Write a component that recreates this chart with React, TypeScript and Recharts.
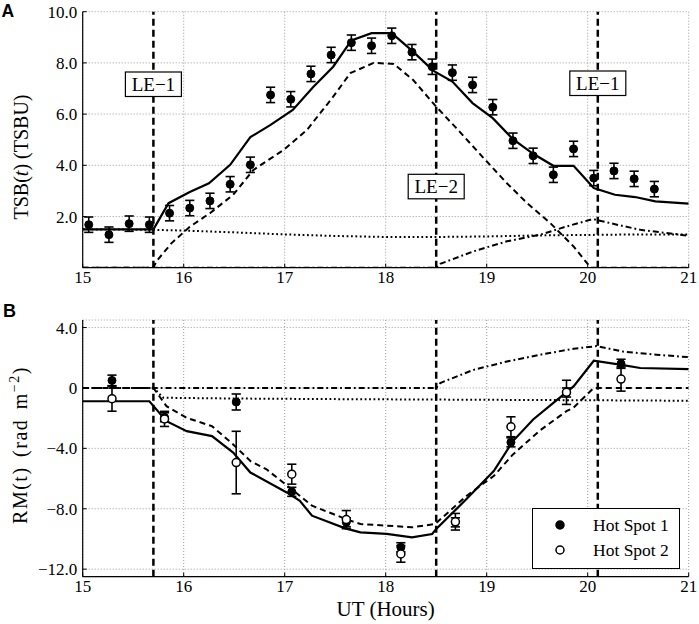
import React from 'react';
import {
  ComposedChart,
  Line,
  Scatter,
  XAxis,
  YAxis,
  CartesianGrid,
  ReferenceLine,
  ErrorBar,
  Legend,
} from 'recharts';

// ---------- axes / ticks ----------
const xTicks = [15, 16, 17, 18, 19, 20, 21];
const tsbTicks = [2, 4, 6, 8, 10];
const rmTicks = [-12, -8, -4, 0, 4];
const leTimes = [15.7, 18.5, 20.1];
const leNames = ['LE\u22121', 'LE\u22122', 'LE\u22121'];
const legendNames = ['Hot Spot 1', 'Hot Spot 2'];

// ---------- Panel A : TSB ----------
const tsbObsX = [15.06, 15.26, 15.46, 15.66, 15.86, 16.06, 16.26, 16.46, 16.66, 16.86, 17.06, 17.26, 17.46, 17.66, 17.86, 18.06, 18.26, 18.46, 18.66, 18.86, 19.06, 19.26, 19.46, 19.66, 19.86, 20.06, 20.26, 20.46, 20.66];
const tsbObsY = [1.68, 1.29, 1.72, 1.68, 2.13, 2.33, 2.61, 3.26, 4.02, 6.75, 6.58, 7.57, 8.31, 8.79, 8.67, 9.06, 8.42, 7.85, 7.62, 7.14, 6.27, 4.96, 4.37, 3.63, 4.64, 3.5, 3.78, 3.47, 3.07];
const tsbObsErr = [0.3, 0.3, 0.3, 0.3, 0.3, 0.3, 0.3, 0.3, 0.3, 0.3, 0.3, 0.3, 0.3, 0.3, 0.3, 0.3, 0.3, 0.3, 0.3, 0.3, 0.3, 0.3, 0.3, 0.3, 0.3, 0.3, 0.3, 0.3, 0.3];

const tsbTotalX = [15.0, 15.7, 15.85, 16.06, 16.25, 16.46, 16.66, 16.86, 17.08, 17.28, 17.48, 17.66, 17.86, 18.06, 18.26, 18.47, 18.66, 18.86, 19.06, 19.26, 19.46, 19.66, 19.86, 20.06, 20.27, 20.47, 20.67, 21.0];
const tsbTotalY = [1.5, 1.5, 2.52, 2.96, 3.3, 4.02, 5.1, 5.58, 6.16, 7.05, 7.85, 8.88, 9.16, 9.16, 8.48, 7.7, 7.27, 6.43, 5.84, 5.02, 4.45, 3.98, 3.98, 3.11, 2.85, 2.76, 2.59, 2.5];

const tsbLe2X = [15.0, 15.7, 15.73, 15.88, 16.06, 16.26, 16.49, 16.69, 16.99, 17.22, 17.48, 17.65, 17.88, 18.08, 18.27, 18.5, 18.7, 18.97, 19.2, 19.4, 19.63, 19.86, 20.03, 21.0];
const tsbLe2Y = [0, 0, 0.25, 0.96, 1.6, 2.13, 2.85, 3.82, 4.6, 5.38, 6.68, 7.6, 8.0, 7.96, 7.34, 6.29, 5.45, 4.28, 3.3, 2.52, 1.74, 0.83, 0, 0];

const tsbLe1aX = [15.0, 15.7, 16.0, 16.5, 17.0, 17.5, 18.0, 18.5, 19.0, 19.5, 20.0, 20.5, 21.0];
const tsbLe1aY = [1.5, 1.48, 1.45, 1.38, 1.3, 1.24, 1.2, 1.2, 1.22, 1.26, 1.28, 1.3, 1.3];

const tsbLe1bX = [15.0, 18.5, 18.54, 18.87, 19.2, 19.53, 19.79, 20.05, 20.29, 20.52, 21.0];
const tsbLe1bY = [0, 0, 0.15, 0.64, 1.03, 1.29, 1.61, 1.9, 1.68, 1.48, 1.25];

// ---------- Panel B : RM ----------
const rmObsX = [15.29, 15.81, 16.52, 17.07, 17.61, 18.15, 18.69, 19.24, 19.79, 20.33];
const hs1Y = [0.5, -1.94, -0.93, -6.88, -8.9, -10.55, -8.9, -3.6, -0.3, 1.6];
const hs1Err = [0.35, 0.3, 0.53, 0.3, 0.3, 0.3, 0.3, 0.3, 0.3, 0.3];
const hs2Y = [-0.71, -2.05, -4.94, -5.71, -8.72, -10.99, -8.86, -2.57, -0.29, 0.59];
const hs2Err = [0.83, 0.5, 2.07, 0.66, 0.6, 0.55, 0.55, 0.66, 0.8, 0.8];

const rmTotalX = [15.0, 15.66, 15.83, 16.03, 16.28, 16.49, 16.66, 17.02, 17.15, 17.27, 17.6, 17.75, 18.01, 18.26, 18.46, 18.5, 18.8, 19.07, 19.26, 19.46, 19.66, 19.86, 20.06, 20.32, 20.52, 21.0];
const rmTotalY = [-0.88, -0.88, -2.2, -2.86, -3.19, -4.28, -5.6, -6.92, -7.47, -8.46, -9.3, -9.56, -9.67, -9.89, -9.67, -9.34, -7.36, -5.5, -3.52, -2.09, -0.99, 0.1, 1.8, 1.54, 1.32, 1.25];

const rmLe2X = [15.0, 15.7, 15.83, 16.03, 16.28, 16.49, 16.66, 16.82, 17.09, 17.27, 17.48, 17.65, 17.75, 18.01, 18.26, 18.49, 18.8, 19.07, 19.26, 19.53, 19.79, 19.86, 20.06, 21.0];
const rmLe2Y = [0, 0, -1.21, -1.98, -2.53, -3.74, -4.84, -5.39, -6.82, -7.8, -8.35, -8.79, -9.01, -9.12, -9.23, -9.01, -7.15, -5.83, -4.4, -2.8, -1.54, -1.3, 0, 0];

const rmLe1aX = [15.0, 15.7, 15.8, 16.5, 17.5, 18.5, 19.5, 20.5, 21.0];
const rmLe1aY = [0, 0, -0.65, -0.7, -0.74, -0.77, -0.8, -0.83, -0.85];

const rmLe1bX = [15.0, 18.5, 18.54, 18.87, 19.2, 19.53, 19.86, 20.09, 20.35, 20.68, 21.0];
const rmLe1bY = [0, 0, 0.33, 1.2, 1.75, 2.2, 2.6, 2.77, 2.41, 2.2, 2.04];

// ---------- helpers ----------
const pts = (xs: number[], ys: number[], es?: number[]) =>
  xs.map((x, i) => (es ? { x, y: ys[i], err: es[i] } : { x, y: ys[i] }));

const SERIF = "'Liberation Serif', 'Times New Roman', 'DejaVu Serif', serif";
const SANS = "'Liberation Sans', Arial, 'DejaVu Sans', sans-serif";
const tickStyle = { fill: '#000', fontSize: 17, style: { fontFamily: SERIF } };
const GRID = '#9a9a9a';

const fmtRM = (v: number) => (v === 0 ? '0' : v.toFixed(1).replace('-', '\u2212'));
const fmtTSB = (v: number) => v.toFixed(1);

const EmptyTick = () => <g />;

const FilledDot = (p: any) => <circle cx={p.cx} cy={p.cy} r={4} fill="#000" stroke="#000" strokeWidth={1} />;
const OpenDot = (p: any) => <circle cx={p.cx} cy={p.cy} r={4} fill="#fff" stroke="#000" strokeWidth={1.5} />;

// LE box tops (absolute y in panel A)
const leBoxTop = [72, 174.3, 71];
const PLOT_A_TOP = 11.7;

const makeLeLabel = (i: number) => (props: any) => {
  const vb = props.viewBox || {};
  const cx = vb.x;
  const top = vb.y + (leBoxTop[i] - PLOT_A_TOP);
  return (
    <g>
      <rect x={cx - 28} y={top} width={56} height={24.5} fill="#fff" stroke="#000" strokeWidth={1.2} />
      <text x={cx} y={top + 12.25 + 6.3} textAnchor="middle" style={{ fontFamily: SERIF }} fontSize={19} fill="#000">
        {leNames[i]}
      </text>
    </g>
  );
};

const LegendBox = () => (
  <div
    style={{
      width: 148,
      height: 61,
      border: '1.2px solid #000',
      background: '#fff',
      boxSizing: 'border-box',
      position: 'relative',
      fontFamily: SERIF,
      fontSize: 17.5,
      color: '#000',
    }}
  >
    {legendNames.map((n, i) => (
      <div
        key={n}
        style={{ position: 'absolute', left: 0, top: i === 0 ? 3.5 : 28.5, height: 24, display: 'flex', alignItems: 'center' }}
      >
        <svg width={56} height={24} style={{ display: 'block' }}>
          <circle cx={27} cy={12} r={4} fill={i === 0 ? '#000' : '#fff'} stroke="#000" strokeWidth={1.5} />
        </svg>
        <span style={{ marginLeft: 4, lineHeight: '24px', whiteSpace: 'nowrap' }}>{n}</span>
      </div>
    ))}
  </div>
);

const lineCommon = { type: 'linear' as const, dataKey: 'y', dot: false, activeDot: false, isAnimationActive: false, stroke: '#000' };

export default function App() {
  return (
    <div style={{ position: 'absolute', left: 0, top: 0, width: 699, height: 624, background: '#fff', fontFamily: SERIF }}>
      {/* Panel A */}
      <div style={{ position: 'absolute', left: 0, top: 0 }}>
        <ComposedChart width={699} height={290} margin={{ top: 11.7, right: 10.3, bottom: 0, left: 0 }}>
          <CartesianGrid stroke={GRID} strokeDasharray="1 2" strokeWidth={1} />
          <XAxis
            xAxisId={0}
            type="number"
            dataKey="x"
            domain={[15, 21]}
            ticks={xTicks}
            allowDataOverflow
            height={22.3}
            tick={tickStyle}
            tickSize={-4}
            tickMargin={7.5}
            axisLine={{ stroke: '#000', strokeWidth: 1.2 }}
            tickLine={{ stroke: '#000' }}
          />
          <XAxis
            xAxisId="top"
            orientation="top"
            type="number"
            domain={[15, 21]}
            ticks={xTicks}
            height={0}
            tick={EmptyTick}
            tickSize={-4}
            axisLine={{ stroke: '#000', strokeWidth: 1.2 }}
            tickLine={{ stroke: '#000' }}
          />
          <YAxis
            yAxisId={0}
            type="number"
            domain={[0, 10]}
            ticks={tsbTicks}
            allowDataOverflow
            width={82.7}
            tick={tickStyle}
            tickFormatter={fmtTSB}
            tickSize={-4}
            tickMargin={9.4}
            axisLine={{ stroke: '#000', strokeWidth: 1.2 }}
            tickLine={{ stroke: '#000' }}
          />
          <YAxis
            yAxisId="right"
            orientation="right"
            type="number"
            domain={[0, 10]}
            ticks={tsbTicks}
            width={0}
            tick={EmptyTick}
            tickSize={-4}
            axisLine={{ stroke: '#000', strokeWidth: 1.2 }}
            tickLine={{ stroke: '#000' }}
          />
          <Line {...lineCommon} data={pts(tsbLe1aX, tsbLe1aY)} strokeWidth={2} strokeDasharray="1.8 2.6" />
          <Line {...lineCommon} data={pts(tsbLe1bX, tsbLe1bY)} strokeWidth={2} strokeDasharray="6 3 1.8 3" />
          <Line {...lineCommon} data={pts(tsbLe2X, tsbLe2Y)} strokeWidth={2} strokeDasharray="6 4" />
          <Line {...lineCommon} data={pts(tsbTotalX, tsbTotalY)} strokeWidth={2.2} />
          {leTimes.map((t, i) => (
            <ReferenceLine
              key={'a' + i}
              x={t}
              stroke="#000"
              strokeWidth={2.5}
              strokeDasharray="7 4"
              label={makeLeLabel(i)}
            />
          ))}
          <Scatter data={pts(tsbObsX, tsbObsY, tsbObsErr)} dataKey="y" shape={FilledDot} isAnimationActive={false}>
            <ErrorBar dataKey="err" direction="y" width={4.6} stroke="#000" strokeWidth={1.6} />
          </Scatter>
        </ComposedChart>
      </div>

      {/* Panel B */}
      <div style={{ position: 'absolute', left: 0, top: 290 }}>
        <ComposedChart width={699} height={334} margin={{ top: 30, right: 10.3, bottom: 0, left: 0 }}>
          <CartesianGrid stroke={GRID} strokeDasharray="1 2" strokeWidth={1} />
          <XAxis
            xAxisId={0}
            type="number"
            dataKey="x"
            domain={[15, 21]}
            ticks={xTicks}
            allowDataOverflow
            height={47.3}
            tick={tickStyle}
            tickSize={-4}
            tickMargin={7.5}
            axisLine={{ stroke: '#000', strokeWidth: 1.2 }}
            tickLine={{ stroke: '#000' }}
          />
          <XAxis
            xAxisId="top"
            orientation="top"
            type="number"
            domain={[15, 21]}
            ticks={xTicks}
            height={0}
            tick={EmptyTick}
            tickSize={-4}
            axisLine={{ stroke: '#000', strokeWidth: 1.2 }}
            tickLine={{ stroke: '#000' }}
          />
          <YAxis
            yAxisId={0}
            type="number"
            domain={[-12.5, 4.5]}
            ticks={rmTicks}
            allowDataOverflow
            width={82.7}
            tick={tickStyle}
            tickFormatter={fmtRM}
            tickSize={-4}
            tickMargin={9.4}
            axisLine={{ stroke: '#000', strokeWidth: 1.2 }}
            tickLine={{ stroke: '#000' }}
          />
          <YAxis
            yAxisId="right"
            orientation="right"
            type="number"
            domain={[-12.5, 4.5]}
            ticks={rmTicks}
            width={0}
            tick={EmptyTick}
            tickSize={-4}
            axisLine={{ stroke: '#000', strokeWidth: 1.2 }}
            tickLine={{ stroke: '#000' }}
          />
          <Line {...lineCommon} data={pts(rmLe1aX, rmLe1aY)} strokeWidth={2} strokeDasharray="1.8 2.6" />
          <Line {...lineCommon} data={pts(rmLe1bX, rmLe1bY)} strokeWidth={2} strokeDasharray="6 3 1.8 3" />
          <Line {...lineCommon} data={pts(rmLe2X, rmLe2Y)} strokeWidth={2} strokeDasharray="6 4" />
          <Line {...lineCommon} data={pts(rmTotalX, rmTotalY)} strokeWidth={2.2} />
          {leTimes.map((t, i) => (
            <ReferenceLine key={'b' + i} x={t} stroke="#000" strokeWidth={2.5} strokeDasharray="7 4" />
          ))}
          <Scatter data={pts(rmObsX, hs1Y, hs1Err)} dataKey="y" shape={FilledDot} isAnimationActive={false}>
            <ErrorBar dataKey="err" direction="y" width={4.6} stroke="#000" strokeWidth={1.6} />
          </Scatter>
          <Scatter data={pts(rmObsX, hs2Y, hs2Err)} dataKey="y" shape={OpenDot} isAnimationActive={false}>
            <ErrorBar dataKey="err" direction="y" width={4.6} stroke="#000" strokeWidth={1.6} />
          </Scatter>
          <Legend
            layout="vertical"
            align="center"
            verticalAlign="middle"
            content={LegendBox}
            wrapperStyle={{ left: 532, top: 218, width: 148, height: 61 }}
          />
        </ComposedChart>
      </div>

      {/* Titles / panel letters */}
      <svg width={699} height={624} style={{ position: 'absolute', left: 0, top: 0, pointerEvents: 'none' }}>
        <text x={1.5} y={17.3} style={{ fontFamily: SANS }} fontWeight="bold" fontSize={17.5} fill="#000">A</text>
        <text x={3} y={316.7} style={{ fontFamily: SANS }} fontWeight="bold" fontSize={18} fill="#000">B</text>
        <text transform="translate(28,157) rotate(-90)" textAnchor="middle" style={{ fontFamily: SERIF }} fontSize={20} fill="#000">
          TSB(<tspan fontStyle="italic">t</tspan>) (TSBU)
        </text>
        <text
          transform="translate(27,445) rotate(-90)"
          textAnchor="middle"
          style={{ fontFamily: SERIF }}
          fontSize={20}
          letterSpacing={1.5}
          wordSpacing={3}
          fill="#000"
        >
          RM(t) (rad m<tspan fontSize={14} dy={-8}>{'\u22122'}</tspan><tspan dy={8}>)</tspan>
        </text>
        <text x={385.7} y={616} textAnchor="middle" style={{ fontFamily: SERIF }} fontSize={21} fill="#000">
          UT (Hours)
        </text>
      </svg>
    </div>
  );
}
